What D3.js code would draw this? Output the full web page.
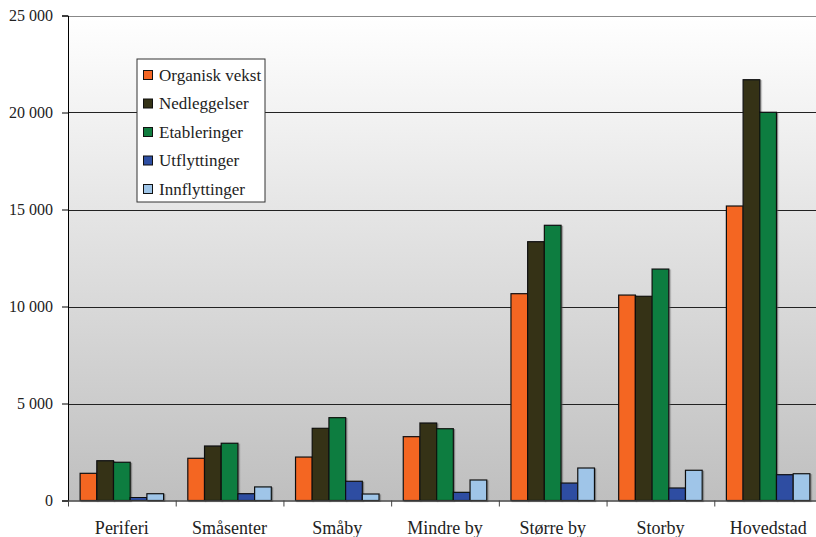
<!DOCTYPE html>
<html><head><meta charset="utf-8">
<script src="https://cdn.jsdelivr.net/npm/d3@7"></script>
<style>body{margin:0;background:#fff}svg{display:block}text{font-family:'Liberation Serif','Tinos','DejaVu Serif','Times New Roman',Times,serif;fill:#222}</style>
</head><body><svg id="c" width="816" height="537"></svg>
<script>
const categories = ["Periferi","Småsenter","Småby","Mindre by","Større by","Storby","Hovedstad"];
const seriesNames = ["Organisk vekst","Nedleggelser","Etableringer","Utflyttinger","Innflyttinger"];
const organiskVekst = [1400, 2175, 2240, 3290, 10660, 10590, 15180];
const nedleggelser  = [2050, 2810, 3720, 3995, 13340, 10525, 21690];
const etableringer  = [1970, 2950, 4270, 3700, 14185, 11930, 20010];
const utflyttinger  = [160, 350, 990, 420, 900, 645, 1330];
const innflyttinger = [350, 700, 335, 1057, 1675, 1557, 1380];
const yTicks = [0, 5000, 10000, 15000, 20000, 25000];
const colors = ["#F46624","#343317","#117D3F","#2D4EA2","#9FC5E8"];

const FONT = "'Liberation Serif','Tinos','DejaVu Serif','Times New Roman',Times,serif";
const values = [organiskVekst, nedleggelser, etableringer, utflyttinger, innflyttinger];
const svg = d3.select("#c");
const L = 68, R = 822, T = 15.5, B = 500.5;
const x0 = d3.scaleBand().domain(categories).range([L, R]);
const x1 = d3.scaleBand().domain(seriesNames).range([0, x0.bandwidth()]).paddingInner(0).paddingOuter(0.725);
const y = d3.scaleLinear().domain([0, 25000]).range([B, T]);
const fmt = d3.formatLocale({decimal:",", thousands:" ", grouping:[3], currency:["",""]}).format(",");

const defs = svg.append("defs");
const g = defs.append("linearGradient").attr("id","bg").attr("x1",0).attr("x2",0).attr("y1",0).attr("y2",1);
g.append("stop").attr("offset","0%").attr("stop-color","#ffffff");
g.append("stop").attr("offset","100%").attr("stop-color","#bfbfbf");
const f = defs.append("filter").attr("id","sh").attr("x","-20%").attr("y","-5%").attr("width","150%").attr("height","115%");
f.append("feDropShadow").attr("dx",1.2).attr("dy",1).attr("stdDeviation",0.6).attr("flood-color","#555").attr("flood-opacity",0.6);
svg.append("rect").attr("x",L).attr("y",T).attr("width",R-L).attr("height",B-T).attr("fill","url(#bg)");

// grid
svg.append("g").selectAll("line").data(yTicks.filter(d=>d>0)).join("line")
  .attr("x1",L).attr("x2",R).attr("y1",d=>Math.round(y(d))+0.5).attr("y2",d=>Math.round(y(d))+0.5)
  .attr("stroke",d=>d===25000?"#888":"#222").attr("stroke-width",1);

// bars
const grp = svg.append("g").selectAll("g").data(seriesNames).join("g").attr("fill",(d,i)=>colors[i]);
grp.each(function(s, si){
  d3.select(this).selectAll("rect").data(categories).join("rect")
    .attr("x", c => x0(c) + x1(s))
    .attr("width", x1.bandwidth())
    .attr("y", (c,ci) => y(values[si][ci]))
    .attr("height", (c,ci) => B - y(values[si][ci]))
    .attr("stroke","#111").attr("stroke-width",1.2)
    .attr("filter","url(#sh)");
});

// y axis
const ya = svg.append("g").attr("transform",`translate(${L},0)`)
  .call(d3.axisLeft(y).tickValues(yTicks).tickFormat(fmt).tickSize(6).tickPadding(9));
ya.attr("font-family", FONT);
ya.select(".domain").attr("stroke","#000");
ya.selectAll(".tick line").attr("stroke","#000");
ya.selectAll("text").style("font-size","16px").attr("fill","#222").style("font-family",FONT);

// x axis
const xa = svg.append("g").attr("transform",`translate(0,${B})`)
  .call(d3.axisBottom(x0).tickSize(0).tickPadding(21));
xa.attr("font-family", FONT);
xa.select(".domain").attr("stroke","#444").attr("stroke-width",1.5);
xa.selectAll("text").style("font-size","18px").attr("fill","#222").style("font-family",FONT);
svg.append("g").selectAll("line").data(categories).join("line")
  .attr("x1",c=>x0(c)+0.5).attr("x2",c=>x0(c)+0.5).attr("y1",B).attr("y2",B+6).attr("stroke","#444");

// legend
const lg = svg.append("g").attr("transform","translate(137,59)");
lg.append("rect").attr("width",128).attr("height",143).attr("fill","#fff").attr("stroke","#333");
const it = lg.selectAll("g").data(seriesNames).join("g").attr("transform",(d,i)=>`translate(0,${16+i*28.5})`);
it.append("rect").attr("x",6.5).attr("y",-4.5).attr("width",9).attr("height",9).attr("fill",(d,i)=>colors[i]).attr("stroke","#111");
it.append("text").attr("x",22).attr("y",5.5).text(d=>d).style("font-size","17px").style("font-family",FONT);
</script></body></html>
